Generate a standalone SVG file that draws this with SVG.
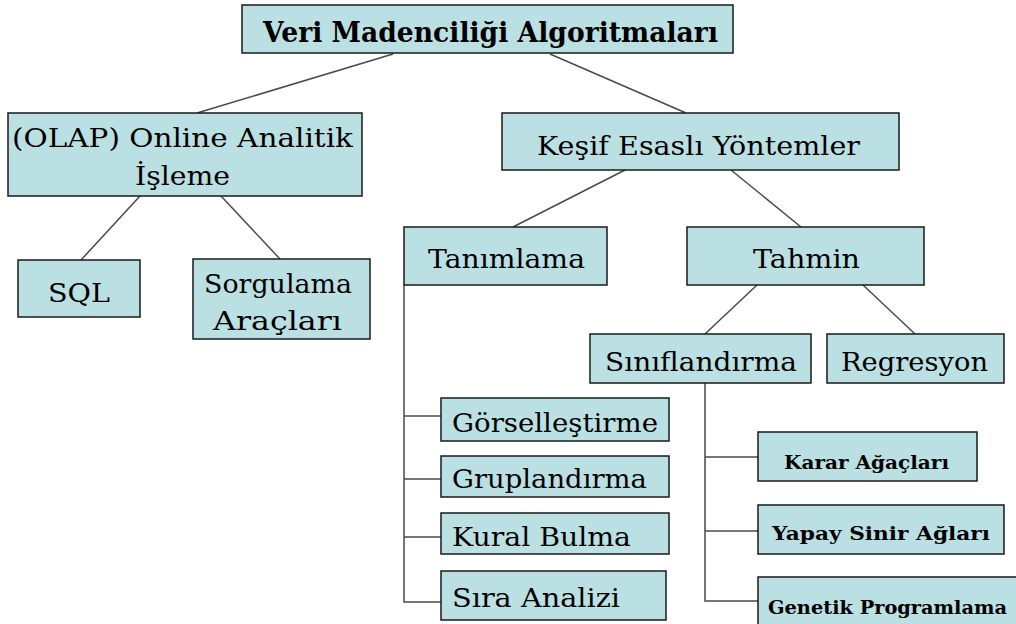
<svg xmlns="http://www.w3.org/2000/svg" width="1016" height="624" viewBox="0 0 1016 624">
<style>
.box{fill:#bbe0e3;stroke:#1a1a1a;stroke-width:1.5}
text{font-family:'DejaVu Serif','Liberation Serif',serif;fill:#000}
.t{font-size:26px}
.r{font-size:27px;font-weight:bold}
.s{font-size:18px;font-weight:bold}
.c{stroke:#4a4a4a;stroke-width:1.5;fill:none}
</style>
<rect width="1016" height="624" fill="#fff"/>
<g id="connectors">
<line class="c" x1="393" y1="54" x2="197" y2="113"/>
<line class="c" x1="550" y1="54" x2="686" y2="113"/>
<line class="c" x1="140" y1="196" x2="81" y2="260"/>
<line class="c" x1="221" y1="196" x2="280" y2="259"/>
<line class="c" x1="625" y1="170" x2="513" y2="227"/>
<line class="c" x1="731" y1="170" x2="801" y2="227"/>
<line class="c" x1="757" y1="285" x2="705" y2="334"/>
<line class="c" x1="863" y1="285" x2="915" y2="334"/>
<polyline class="c" points="404,285 404,602 441,602"/>
<line class="c" x1="404" y1="416" x2="441" y2="416"/>
<line class="c" x1="404" y1="479" x2="441" y2="479"/>
<line class="c" x1="404" y1="537" x2="441" y2="537"/>
<polyline class="c" points="705,383 705,601 758,601"/>
<line class="c" x1="705" y1="457" x2="758" y2="457"/>
<line class="c" x1="705" y1="531" x2="758" y2="531"/>
</g>
<g id="root">
<rect class="box" x="242" y="5" width="491" height="48"/>
<text class="r" x="263" y="42" textLength="455" lengthAdjust="spacingAndGlyphs">Veri Madenciliği Algoritmaları</text>
</g>
<g id="olap">
<rect class="box" x="8" y="113" width="354" height="83"/>
<text class="t" x="12" y="147" textLength="341" lengthAdjust="spacingAndGlyphs">(OLAP) Online Analitik</text>
<text class="t" x="135" y="185" textLength="95" lengthAdjust="spacingAndGlyphs">İşleme</text>
</g>
<g id="sql">
<rect class="box" x="18" y="260" width="122" height="57"/>
<text class="t" x="48" y="302" textLength="62" lengthAdjust="spacingAndGlyphs">SQL</text>
</g>
<g id="sorgulama">
<rect class="box" x="193" y="259" width="177" height="80"/>
<text class="t" x="204" y="293" textLength="148" lengthAdjust="spacingAndGlyphs">Sorgulama</text>
<text class="t" x="213" y="330" textLength="129" lengthAdjust="spacingAndGlyphs">Araçları</text>
</g>
<g id="kesif">
<rect class="box" x="502" y="113" width="397" height="57"/>
<text class="t" x="537" y="155" textLength="323" lengthAdjust="spacingAndGlyphs">Keşif Esaslı Yöntemler</text>
</g>
<g id="tanimlama">
<rect class="box" x="404" y="227" width="203" height="58"/>
<text class="t" x="428" y="268" textLength="157" lengthAdjust="spacingAndGlyphs">Tanımlama</text>
</g>
<g id="tahmin">
<rect class="box" x="687" y="227" width="237" height="58"/>
<text class="t" x="753" y="268" textLength="107" lengthAdjust="spacingAndGlyphs">Tahmin</text>
</g>
<g id="siniflandirma">
<rect class="box" x="590" y="334" width="221" height="49"/>
<text class="t" x="605" y="371" textLength="192" lengthAdjust="spacingAndGlyphs">Sınıflandırma</text>
</g>
<g id="regresyon">
<rect class="box" x="827" y="334" width="177" height="49"/>
<text class="t" x="841" y="371" textLength="147" lengthAdjust="spacingAndGlyphs">Regresyon</text>
</g>
<g id="gorsellestirme">
<rect class="box" x="441" y="398" width="228" height="43"/>
<text class="t" x="452" y="432" textLength="206" lengthAdjust="spacingAndGlyphs">Görselleştirme</text>
</g>
<g id="gruplandirma">
<rect class="box" x="441" y="456" width="228" height="41"/>
<text class="t" x="452" y="488" textLength="195" lengthAdjust="spacingAndGlyphs">Gruplandırma</text>
</g>
<g id="kural">
<rect class="box" x="441" y="513" width="228" height="41"/>
<text class="t" x="452" y="546" textLength="179" lengthAdjust="spacingAndGlyphs">Kural Bulma</text>
</g>
<g id="sira">
<rect class="box" x="441" y="571" width="225" height="49"/>
<text class="t" x="452" y="607" textLength="168" lengthAdjust="spacingAndGlyphs">Sıra Analizi</text>
</g>
<g id="karar">
<rect class="box" x="758" y="432" width="219" height="49"/>
<text class="s" x="784" y="469" textLength="165" lengthAdjust="spacingAndGlyphs">Karar Ağaçları</text>
</g>
<g id="yapay">
<rect class="box" x="758" y="505" width="246" height="49"/>
<text class="s" x="772" y="540" textLength="218" lengthAdjust="spacingAndGlyphs">Yapay Sinir Ağları</text>
</g>
<g id="genetik">
<rect class="box" x="758" y="577" width="262" height="52"/>
<text class="s" x="768" y="614" textLength="239" lengthAdjust="spacingAndGlyphs">Genetik Programlama</text>
</g>
</svg>
